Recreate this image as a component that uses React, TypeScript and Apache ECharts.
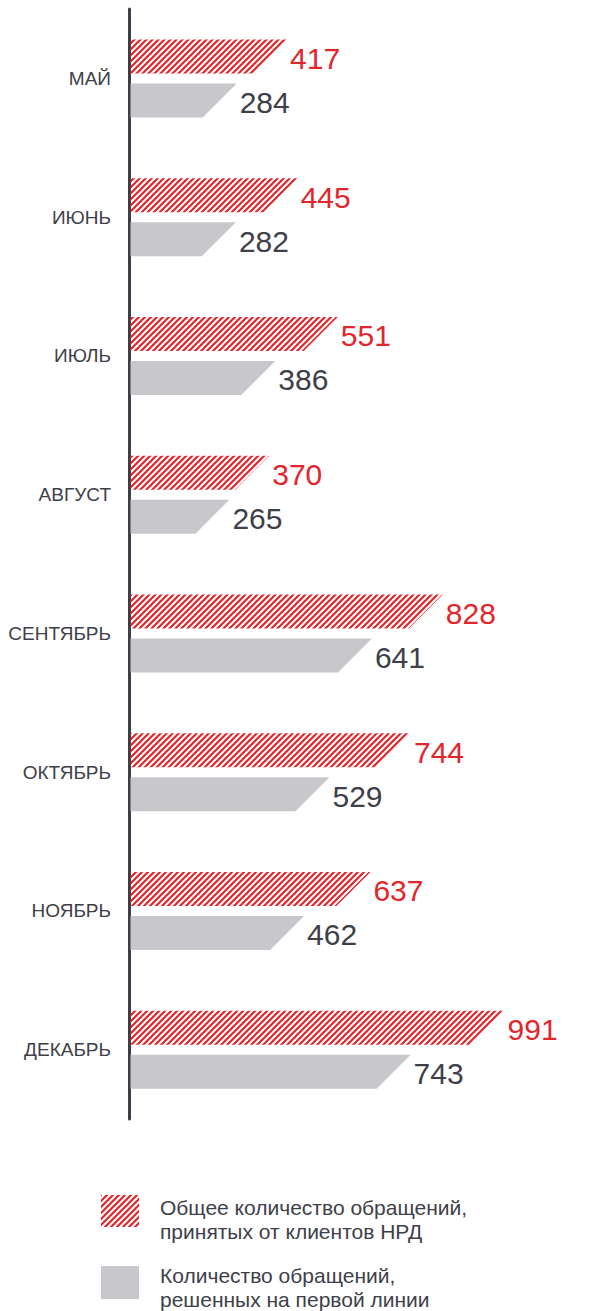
import React, { useEffect, useRef } from 'react';
import * as echarts from 'echarts';

const months = ['МАЙ', 'ИЮНЬ', 'ИЮЛЬ', 'АВГУСТ', 'СЕНТЯБРЬ', 'ОКТЯБРЬ', 'НОЯБРЬ', 'ДЕКАБРЬ'];
const totalRequests = [417, 445, 551, 370, 828, 744, 637, 991];
const firstLineResolved = [284, 282, 386, 265, 641, 529, 462, 743];
const legendTotal = ['Общее количество обращений,', 'принятых от клиентов НРД'];
const legendFirstLine = ['Количество обращений,', 'решенных на первой линии'];

const FONT = '"Liberation Sans", Arial, sans-serif';
const RED = '#e1262c';
const GREY_BAR = '#c8c8cc';
const DARK = '#3e4049';

function makeHatch(): HTMLCanvasElement {
  const c = document.createElement('canvas');
  c.width = 6;
  c.height = 6;
  const ctx = c.getContext('2d')!;
  ctx.strokeStyle = RED;
  ctx.lineWidth = 2.2;
  ctx.beginPath();
  ctx.moveTo(-1, 7); ctx.lineTo(7, -1);
  ctx.moveTo(-1, 1); ctx.lineTo(1, -1);
  ctx.moveTo(5, 7); ctx.lineTo(7, 5);
  ctx.stroke();
  return c;
}

export default function App() {
  const ref = useRef<HTMLDivElement>(null);
  useEffect(() => {
    if (!ref.current) return;
    const chart = echarts.init(ref.current, undefined, { renderer: 'svg' });
    const hatch = { image: makeHatch(), repeat: 'repeat' } as any;
    const H = 34;

    const makeRender = (offTop: number, fill: any, labelColor: string) =>
      (params: any, api: any) => {
        const cat = api.value(0);
        const v = api.value(1);
        const p0 = api.coord([0, cat]);
        const p1 = api.coord([v, cat]);
        const x0 = p0[0] + 1.5;
        const x1 = p1[0];
        const top = p0[1] + offTop;
        const bot = top + H;
        return {
          type: 'group',
          children: [
            {
              type: 'polygon',
              shape: { points: [[x0, top], [x1, top], [x1 - H, bot], [x0, bot]] },
              style: { fill },
            },
            {
              type: 'text',
              style: {
                text: String(v),
                x: x1 + 3,
                y: top + H / 2 + 2,
                verticalAlign: 'middle',
                align: 'left',
                fill: labelColor,
                fontFamily: FONT,
                fontSize: 30,
                fontWeight: 'normal',
              },
            },
          ],
        };
      };

    chart.setOption({
      animation: false,
      grid: { left: 129, top: 9, width: 379, height: 1110 },
      xAxis: { type: 'value', min: 0, max: 1000, show: false },
      yAxis: {
        type: 'category',
        data: months,
        inverse: true,
        axisLine: { show: true, lineStyle: { color: '#3d3f46', width: 3 } },
        axisTick: { show: false },
        splitLine: { show: false },
        axisLabel: { margin: 18, color: DARK, fontFamily: FONT, fontSize: 19, fontWeight: 'normal' },
      },
      series: [
        {
          type: 'custom',
          name: 'total',
          encode: { x: 1, y: 0 },
          data: totalRequests.map((v, i) => [i, v]),
          renderItem: makeRender(-39, hatch, RED),
        },
        {
          type: 'custom',
          name: 'firstLine',
          encode: { x: 1, y: 0 },
          data: firstLineResolved.map((v, i) => [i, v]),
          renderItem: makeRender(5, GREY_BAR, DARK),
        },
      ],
      graphic: [
        { type: 'rect', shape: { x: 101, y: 1195, width: 38, height: 32 }, style: { fill: hatch } },
        { type: 'rect', shape: { x: 101, y: 1266, width: 38, height: 33 }, style: { fill: GREY_BAR } },
        {
          type: 'text', x: 160, y: 1195,
          style: { text: legendTotal.join('\n'), fill: DARK, fontFamily: FONT, fontSize: 21, lineHeight: 24, verticalAlign: 'top' },
        },
        {
          type: 'text', x: 160, y: 1263,
          style: { text: legendFirstLine.join('\n'), fill: DARK, fontFamily: FONT, fontSize: 21, lineHeight: 24, verticalAlign: 'top' },
        },
      ],
    });
    return () => chart.dispose();
  }, []);
  return <div ref={ref} style={{ position: 'absolute', left: 0, top: 0, width: 608, height: 1311 }} />;
}
